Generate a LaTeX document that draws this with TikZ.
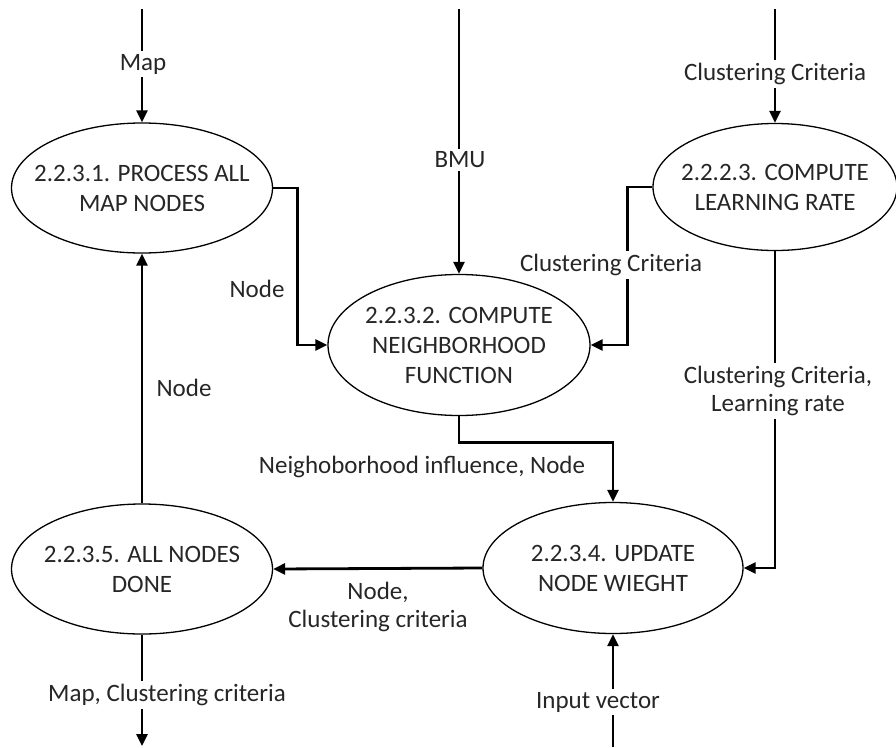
\documentclass[tikz,border=0pt]{standalone}
\usepackage{fontspec}
\setmainfont{Carlito}
\usetikzlibrary{arrows.meta,shapes.geometric}
\begin{document}
\begin{tikzpicture}[x=1pt,y=-1pt,
  proc/.style={draw,ellipse,line width=1.3pt,inner xsep=-80pt,inner ysep=-40pt,
    align=center,font=\fontsize{25}{30}\selectfont,text=black!85},
  flow/.style={line width=2.8pt,-{Triangle[length=12pt,width=11pt]}},
  lbl/.style={font=\fontsize{25}{28}\selectfont,text=black!85,align=center,inner sep=3pt},
  cut/.style={lbl,fill=white}]
\useasboundingbox (0,0) rectangle (896,747);

% processes
\node[proc,minimum width=261pt,minimum height=130pt] (e1) at (142,188) {2.2.3.1. PROCESS ALL\\MAP NODES};
\node[proc,minimum width=262pt,minimum height=141pt] (e2) at (459,345) {2.2.3.2. COMPUTE\\NEIGHBORHOOD\\FUNCTION};
\node[proc,minimum width=244pt,minimum height=127pt] (e3) at (775,187) {2.2.2.3. COMPUTE\\LEARNING RATE};
\node[proc,minimum width=260pt,minimum height=131pt] (e4) at (613,568) {2.2.3.4. UPDATE\\NODE WIEGHT};
\node[proc,minimum width=261pt,minimum height=130pt] (e5) at (142,569) {2.2.3.5. ALL NODES\\DONE};

% free ends of the external flows
\coordinate (mapin) at (142,9);
\coordinate (bmuin) at (459,9);
\coordinate (ccin) at (775,9);
\coordinate (mapout) at (142,746);
\coordinate (vecin) at (613,747);

% connectors
\draw[flow] (mapin) -- (e1.north);
\draw[flow] (bmuin) -- (e2.north);
\draw[flow] (ccin) -- (e3.north);
\draw[flow] (e1.east) -- ++(24,0) |- (e2.west);
\draw[flow] (e3.west) -- ++(-25,0) |- (e2.east);
\draw[flow] (e2.south) -- ++(0,26) -| (e4.north);
\draw[flow] (e3.south) |- (e4.east);
\draw[flow] (e4.west) -- (e5.east);
\draw[flow] (e5.north) -- (e1.south);
\draw[flow] (e5.south) -- (mapout);
\draw[flow] (vecin) -- (e4.south);

% labels
\node[cut] (lmap) at (143,64) {Map};
\node[cut] (lbmu) at (460,160) {BMU};
\node[cut] (lcc) at (775,74) {Clustering Criteria};
\node[cut] (lcc2) at (611,265) {Clustering Criteria};
\node[cut] (lcclr) at (778,391) {Clustering Criteria,\\Learning rate};
\node[lbl] (lnode1) at (257,289) {Node};
\node[lbl] (lnode2) at (184,388) {Node};
\node[lbl] (lni) at (422,467) {Neighoborhood influence, Node};
\node[lbl] (lncc) at (378,607) {Node,\\Clustering criteria};
\node[cut] (lmcc) at (167,695) {Map, Clustering criteria};
\node[cut] (lvec) at (598,702) {Input vector};
\end{tikzpicture}
\end{document}
